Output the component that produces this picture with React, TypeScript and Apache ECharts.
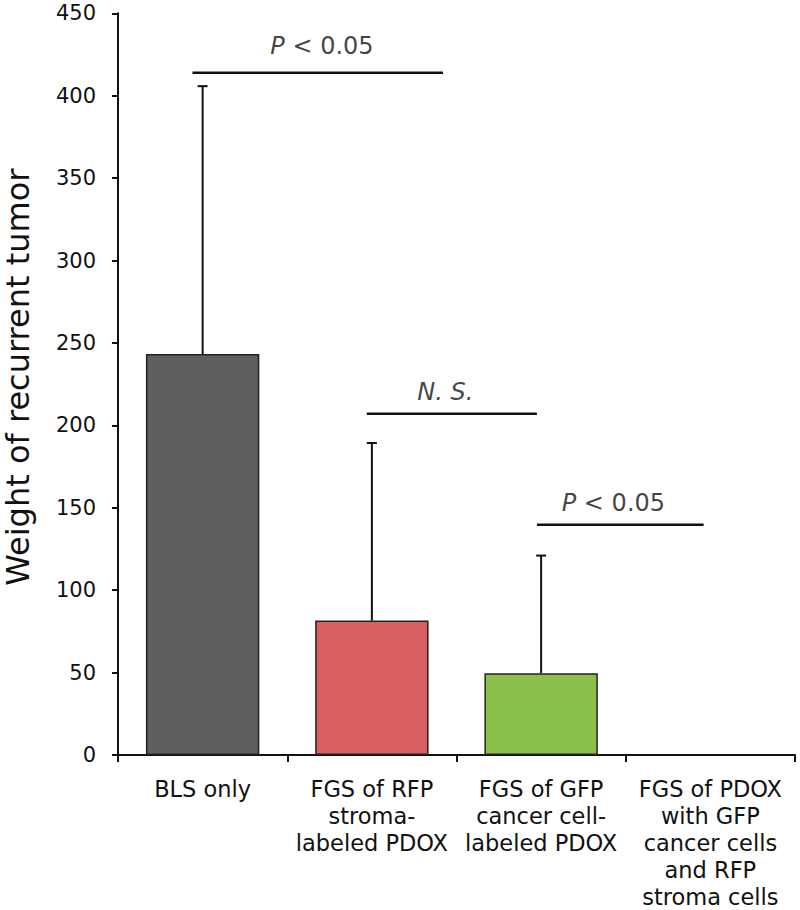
import React, { useEffect, useRef } from "react";
import * as echarts from "echarts";

const categories = [
  "BLS only",
  "FGS of RFP\nstroma-\nlabeled PDOX",
  "FGS of GFP\ncancer cell-\nlabeled PDOX",
  "FGS of PDOX\nwith GFP\ncancer cells\nand RFP\nstroma cells",
];
const means = [243.3, 81.6, 49.6, 0];
const sds = [162.5, 107.7, 71.4, 0];
const barColors = ["#5f5f5f", "#d9605e", "#8bc04a", "#8bc04a"];

const yTicksMin = 0;
const yTicksMax = 450;
const yTickStep = 50;

const bracketX0 = [-0.06, 0.97, 1.975];
const bracketX1 = [1.42, 1.975, 2.96];
const bracketY = [414, 207, 139.7];
const bracketLabels = ["{i|P} < 0.05", "{i|N. S.}", "{i|P} < 0.05"];
const labelX = [0.705, 1.434, 2.427];
const labelY = [430, 220, 153];

const FONT = "DejaVu Sans";

export default function App() {
  const ref = useRef<HTMLDivElement>(null);
  useEffect(() => {
    if (!ref.current) return;
    const chart = echarts.init(ref.current, null, { renderer: "svg" });

    const bracketSeries = bracketY.map((y, k) => ({
      type: "line",
      xAxisIndex: 1,
      yAxisIndex: 0,
      data: [
        [bracketX0[k], y],
        [bracketX1[k], y],
      ],
      symbol: "none",
      silent: true,
      lineStyle: { color: "#111", width: 2.5 },
      z: 5,
    }));

    const labelSeries = {
      type: "scatter",
      xAxisIndex: 1,
      yAxisIndex: 0,
      symbolSize: 0,
      silent: true,
      data: labelX.map((x, k) => ({
        value: [x, labelY[k]],
        label: {
          show: true,
          position: "inside",
          formatter: bracketLabels[k],
          fontFamily: FONT,
          fontSize: 24,
          color: "#111",
          rich: {
            i: { fontFamily: FONT, fontSize: 24, fontStyle: "italic", color: "#111" },
          },
        },
      })),
      z: 6,
    };

    const option: any = {
      animation: false,
      backgroundColor: "#ffffff",
      grid: {
        left: 118,
        right: 5,
        top: 13.3,
        bottom: 155,
        containLabel: false,
        outerBoundsMode: "none",
      },
      xAxis: [
        {
          type: "category",
          data: categories,
          boundaryGap: true,
          axisLine: { show: true, onZero: false, lineStyle: { color: "#111", width: 2 } },
          axisTick: { show: true, length: 7, inside: false, lineStyle: { color: "#111", width: 2 } },
          axisLabel: {
            interval: 0,
            margin: 20,
            fontFamily: FONT,
            fontSize: 22.5,
            lineHeight: 27,
            color: "#111",
            align: "center",
          },
          splitLine: { show: false },
        },
        {
          type: "value",
          min: -0.5,
          max: 3.5,
          show: false,
        },
      ],
      yAxis: {
        type: "value",
        min: yTicksMin,
        max: yTicksMax,
        interval: yTickStep,
        name: "Weight of recurrent tumor",
        nameLocation: "middle",
        nameRotate: 90,
        nameGap: 83,
        nameTextStyle: {
          fontFamily: FONT,
          fontSize: 32,
          lineHeight: 34,
          color: "#111",
          padding: [0, 0, 0, 14],
        },
        axisLine: { show: true, onZero: false, lineStyle: { color: "#111", width: 2 } },
        axisTick: { show: true, length: 6, inside: false, lineStyle: { color: "#111", width: 2 } },
        axisLabel: { margin: 22, fontFamily: FONT, fontSize: 21, color: "#111" },
        splitLine: { show: false },
      },
      series: [
        {
          type: "bar",
          xAxisIndex: 0,
          yAxisIndex: 0,
          barWidth: "67%",
          data: means.map((v, i) => ({
            value: v,
            itemStyle: {
              color: barColors[i],
              borderColor: "#222",
              borderWidth: v > 0 ? 1.5 : 0,
            },
          })),
          z: 2,
        },
        {
          type: "custom",
          xAxisIndex: 0,
          yAxisIndex: 0,
          data: means.map((m, i) => [i, m, m + sds[i]]),
          encode: { x: 0, y: [1, 2] },
          silent: true,
          z: 3,
          renderItem: (params: any, api: any) => {
            const i = api.value(0);
            const m = api.value(1);
            const u = api.value(2);
            if (u <= m) return { type: "group", children: [] };
            const p0 = api.coord([i, m]);
            const p1 = api.coord([i, u]);
            const st = { stroke: "#111", lineWidth: 2 };
            return {
              type: "group",
              children: [
                { type: "line", shape: { x1: p0[0], y1: p0[1], x2: p1[0], y2: p1[1] }, style: st },
                { type: "line", shape: { x1: p1[0] - 5, y1: p1[1], x2: p1[0] + 5, y2: p1[1] }, style: st },
              ],
            };
          },
        },
        ...bracketSeries,
        labelSeries,
      ],
    };

    chart.setOption(option);
    return () => chart.dispose();
  }, []);

  return (
    <div
      ref={ref}
      style={{ position: "absolute", left: 0, top: 0, width: 800, height: 910, background: "#fff" }}
    />
  );
}
